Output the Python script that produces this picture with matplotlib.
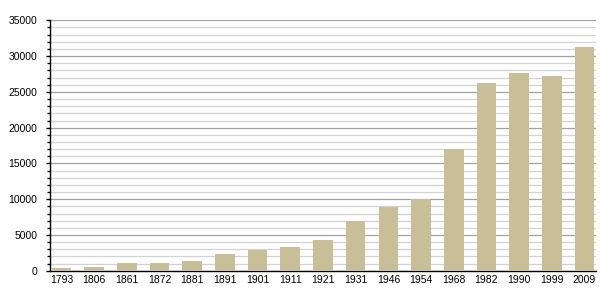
import matplotlib.pyplot as plt
from matplotlib.ticker import MultipleLocator

years = ['1793', '1806', '1861', '1872', '1881', '1891', '1901', '1911', '1921',
         '1931', '1946', '1954', '1968', '1982', '1990', '1999', '2009']
population = [460, 600, 1160, 1120, 1440, 2380, 2900, 3270, 4250,
              7000, 8960, 10080, 17080, 26180, 27580, 27160, 31220]

plt.rcParams['font.family'] = ['Liberation Sans', 'DejaVu Sans']

fig = plt.figure(figsize=(6.05, 3.0), dpi=100)
ax = fig.add_axes([0.0826, 0.0973, 0.9024, 0.835])

x = range(len(years))
ax.bar(x, population, width=0.6, color='#c8bf99', zorder=3)

ax.set_xlim(-0.35, len(years) - 0.65)
ax.set_ylim(0, 35000)
ax.set_xticks(list(x))
ax.set_xticklabels(years)
ax.yaxis.set_major_locator(MultipleLocator(5000))
ax.yaxis.set_minor_locator(MultipleLocator(1000))

ax.grid(axis='y', which='major', color='#a0a0a0', linewidth=0.9, zorder=0)
ax.grid(axis='y', which='minor', color='#d2d2d2', linewidth=0.9, zorder=0)

for s in ['top', 'right']:
    ax.spines[s].set_visible(False)
ax.spines['left'].set_linewidth(1.0)
ax.spines['bottom'].set_linewidth(1.0)

ax.tick_params(axis='y', which='major', length=3, width=1, pad=6, labelsize=7.5)
ax.tick_params(axis='y', which='minor', length=2, width=1)
ax.tick_params(axis='x', length=0, pad=3, labelsize=7.5)

plt.savefig('out.png', dpi=100)
